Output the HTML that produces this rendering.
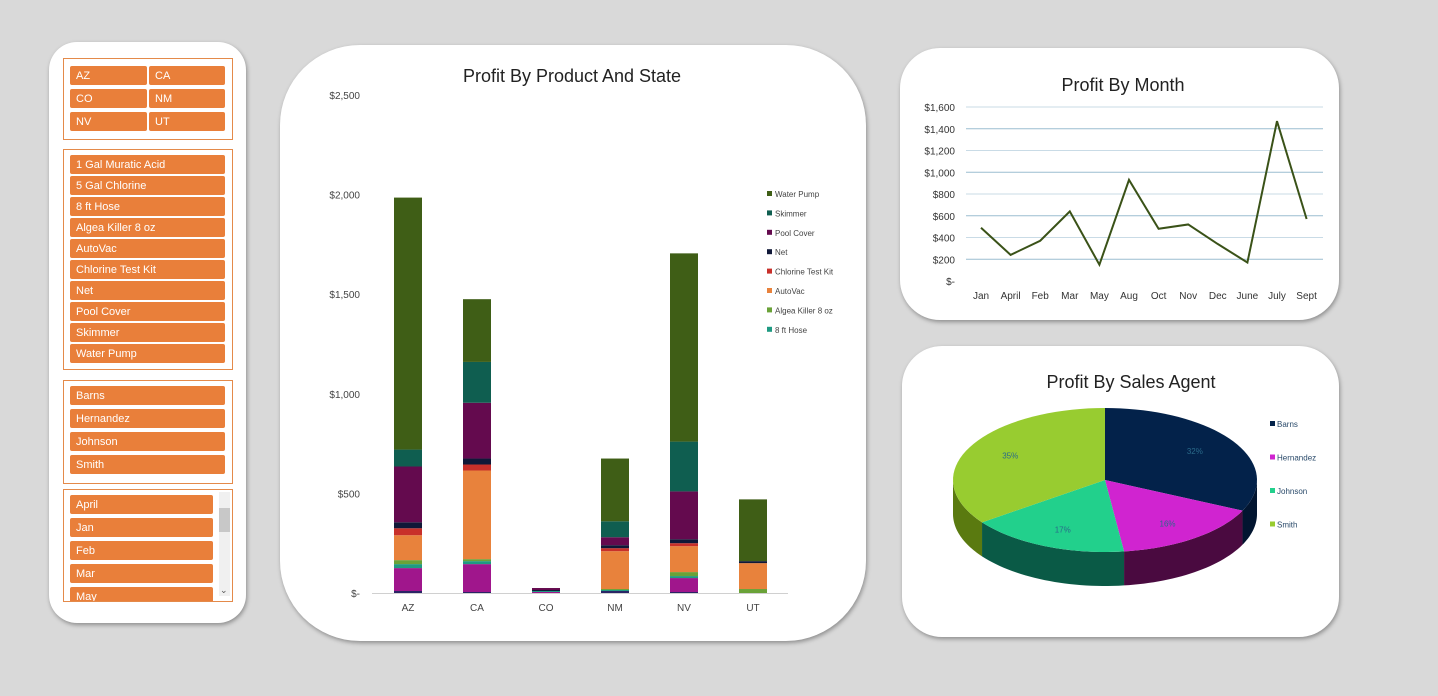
<!DOCTYPE html>
<html><head><meta charset="utf-8"><style>
body{margin:0;width:1438px;height:696px;background:#d9d9d9;font-family:"Liberation Sans",sans-serif;position:relative;overflow:hidden}
.panel{position:absolute;background:#fff;box-shadow:1px 2px 4px rgba(0,0,0,.35)}
.box{position:absolute;border:1px solid #e48a4a;left:14px;width:168px}
.btn{position:absolute;background:#e97f3a;color:#fff;font-size:11px;padding-left:6px;box-sizing:border-box;border-radius:2px;height:19px;display:flex;align-items:center}
svg text{font-family:"Liberation Sans",sans-serif}
</style></head><body>
<div class="panel" style="left:49px;top:42px;width:197px;height:581px;border-radius:28px">
 <div class="box" style="top:16px;height:80px">
  <div class="btn" style="left:6px;top:7px;width:77px">AZ</div>
  <div class="btn" style="left:85px;top:7px;width:76px">CA</div>
  <div class="btn" style="left:6px;top:30px;width:77px">CO</div>
  <div class="btn" style="left:85px;top:30px;width:76px">NM</div>
  <div class="btn" style="left:6px;top:53px;width:77px">NV</div>
  <div class="btn" style="left:85px;top:53px;width:76px">UT</div>
 </div>
 <div class="box" id="prod" style="top:107px;height:219px"></div>
 <div class="box" id="agent" style="top:338px;height:102px"></div>
 <div class="box" id="month" style="top:447px;height:111px;overflow:hidden"></div>
</div>
<div class="panel" style="left:280px;top:45px;width:586px;height:596px;border-radius:80px"></div>
<div class="panel" style="left:900px;top:48px;width:439px;height:272px;border-radius:40px"></div>
<div class="panel" style="left:902px;top:346px;width:437px;height:291px;border-radius:40px"></div>
<svg id="s" width="1438" height="696" style="position:absolute;left:0;top:0"></svg>
<script>
const products=["1 Gal Muratic Acid","5 Gal Chlorine","8 ft Hose","Algea Killer 8 oz","AutoVac","Chlorine Test Kit","Net","Pool Cover","Skimmer","Water Pump"];
const agents=["Barns","Hernandez","Johnson","Smith"];
const monthsSlicer=["April","Jan","Feb","Mar","May"];
function mk(parent,txt,top,w,name){const d=document.createElement('div');d.className='btn';d.textContent=txt;d.style.left='6px';d.style.top=top+'px';d.style.width=w+'px';


parent.appendChild(d);}
const P=document.getElementById('prod');products.forEach((p,i)=>mk(P,p,5+i*21,155,'slicer-product-'+i));
const A=document.getElementById('agent');agents.forEach((p,i)=>mk(A,p,5+i*23,155,'slicer-agent-'+i));
const M=document.getElementById('month');monthsSlicer.forEach((p,i)=>mk(M,p,5+i*23,143,'slicer-month-'+i));
M.insertAdjacentHTML('beforeend','<div style="position:absolute;right:2px;top:2px;width:11px;height:104px;background:#f0f0f0"><div style="position:absolute;top:16px;left:0;width:11px;height:24px;background:#c8c8c8"></div><div style="position:absolute;bottom:0;left:1px;font-size:9px;color:#555">&#8964;</div></div>');

const states=["AZ","CA","CO","NM","NV","UT"];
const seriesNames=["1 Gal Muratic Acid","5 Gal Chlorine","8 ft Hose","Algea Killer 8 oz","AutoVac","Chlorine Test Kit","Net","Pool Cover","Skimmer","Water Pump"];
const seriesColors=["#2a2466","#a0168c","#1f9a82","#6aa238","#e8823c","#c8302a","#101838","#640a4e","#0f5e50","#3f5e16"];
const sMuratic=[10,5,0,10,5,0];
const sChlorine=[115,140,5,0,70,0];
const sHose=[20,15,5,5,10,0];
const sAlgea=[20,10,0,5,20,20];
const sAutoVac=[125,445,0,190,130,130];
const sTestKit=[35,30,0,15,15,0];
const sNet=[30,30,5,15,20,10];
const sPool=[280,280,10,40,240,0];
const sSkimmer=[85,205,0,80,250,0];
const sPump=[1265,315,0,315,945,310];
const yTicks=[0,500,1000,1500,2000,2500];
const yTickLabels=["$-","$500","$1,000","$1,500","$2,000","$2,500"];
const months=["Jan","April","Feb","Mar","May","Aug","Oct","Nov","Dec","June","July","Sept"];
const monthProfit=[490,240,370,640,150,930,480,520,340,170,1470,570];
const lTicks=[0,200,400,600,800,1000,1200,1400,1600];
const lTickLabels=["$-","$200","$400","$600","$800","$1,000","$1,200","$1,400","$1,600"];
const agentShare=[32,16,17,35];
const agentColors=["#03224a","#d024d0","#22d08c","#98cc30"];
const agentDark=["#021530","#4a0a40","#0a5a46","#5a7a10"];

const S=document.getElementById('s');const NS='http://www.w3.org/2000/svg';
function el(t,a,txt){const e=document.createElementNS(NS,t);for(const k in a)e.setAttribute(k,a[k]);if(txt!=null)e.textContent=txt;S.appendChild(e);return e;}
function tx(x,y,s,size,fill,anchor,name){const e=el('text',{x:x,y:y,'font-size':size,fill:fill,'text-anchor':anchor||'start'},s);

return e;}

const by=v=>593-v*(498/2500);const bx=i=>408+i*69;
tx(572,82,"Profit By Product And State",18,"#222","middle","bar-chart-title");
yTicks.forEach((t,i)=>tx(360,by(t)+4,yTickLabels[i],10,"#444","end","bar-y-tick"));
const ax=el('line',{x1:372,x2:788,y1:593.5,y2:593.5,stroke:'#d0d0d0'});


const all=[sMuratic,sChlorine,sHose,sAlgea,sAutoVac,sTestKit,sNet,sPool,sSkimmer,sPump];
states.forEach((st,i)=>{let acc=0;all.forEach((ser,k)=>{const v=ser[i];if(v>0){const r=el('rect',{x:bx(i)-14,y:by(acc+v),width:28,height:by(acc)-by(acc+v),fill:seriesColors[k]});

}acc+=v;});
tx(bx(i),611,st,10,"#444","middle","bar-x-label");});
for(let k=9;k>=2;k--){const j=9-k;const y=194+j*19.4;
const r=el('rect',{x:767,y:y-3,width:5,height:5,fill:seriesColors[k]});


tx(775,y+3,seriesNames[k],8,"#444","start","bar-legend-entry");}

const ly=v=>281-v*(174/1600);const lx=i=>981+i*29.6;
tx(1123,91,"Profit By Month",18,"#222","middle","line-chart-title");
lTicks.forEach((t,i)=>{if(t>0){const g=el('line',{x1:966,x2:1323,y1:ly(t),y2:ly(t),stroke:i%2?'#9cbdd0':'#c9dbe6'});

}
tx(955,ly(t)+4,lTickLabels[i],10,"#333","end","line-y-tick");});
months.forEach((m,i)=>tx(lx(i),299,m,10,"#333","middle","line-x-label"));
const pl=el('polyline',{points:monthProfit.map((v,i)=>lx(i)+','+ly(v)).join(' '),fill:'none',stroke:'#3a5218','stroke-width':2});



tx(1131,388,"Profit By Sales Agent",18,"#222","middle","pie-chart-title");
const cx=1105,cy=480,rx=152,ry=72,dp=34;
const pt=(a,d)=>[cx+rx*Math.cos(a),cy+ry*Math.sin(a)+(d||0)];
let a0=-Math.PI/2;const tot=agentShare.reduce((a,b)=>a+b,0);
const slices=agentShare.map(v=>{const a1=a0+v/tot*2*Math.PI;const s=[a0,a1];a0=a1;return s;});
slices.forEach(([s,e],i)=>{const ranges=[[Math.max(s,0),Math.min(e,Math.PI)],[Math.max(s,2*Math.PI),Math.min(e,3*Math.PI)]];
ranges.forEach(([l,h])=>{if(h>l){let d='M'+pt(l);const n=30;for(let j=1;j<=n;j++)d+=' L'+pt(l+(h-l)*j/n);for(let j=n;j>=0;j--)d+=' L'+pt(l+(h-l)*j/n,dp);
const p=el('path',{d:d+'Z',fill:agentDark[i]});

}});});
slices.forEach(([s,e],i)=>{let d='M'+cx+','+cy+' L'+pt(s);const n=40;for(let j=1;j<=n;j++)d+=' L'+pt(s+(e-s)*j/n);
const p=el('path',{d:d+'Z',fill:agentColors[i]});


const m=(s+e)/2;const q=[cx+rx*0.7*Math.cos(m),cy+ry*0.75*Math.sin(m)];
tx(q[0],q[1]+3,agentShare[i]+'%',8,"#2a6a8a","middle","pie-label");
const r=el('rect',{x:1270,y:421+i*33.5,width:5,height:5,fill:agentColors[i]});


tx(1277,427+i*33.5,agents[i],8,"#2a4a6a","start","pie-legend-entry");});
</script>
</body></html>
